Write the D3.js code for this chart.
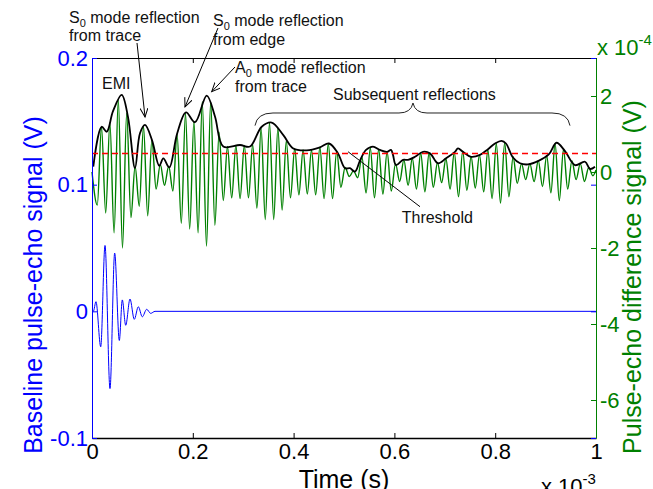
<!DOCTYPE html>
<html>
<head>
<meta charset="utf-8">
<script src="https://cdn.jsdelivr.net/npm/d3@7"></script>
<style>
  body { margin: 0; background: #fff; }
  text { font-family: Arial, "Liberation Sans", Helvetica, sans-serif; }
</style>
</head>
<body>
<svg id="chart" width="653" height="489"></svg>
<script>
// tick values
var timeTicks = [0, 0.2, 0.4, 0.6, 0.8, 1];
var baseTicks = [-0.1, 0, 0.1, 0.2];
var diffTicks = [-6, -4, -2, 0, 2];

// threshold level (x 1e-4 V)
var threshold = 0.49;

// baseline pulse-echo signal: [time (ms), volts]
var baseline = [
  [0, 0], [0.0026, 0], [0.0079, 0.0076], [0.0173, -0.028], [0.0258, 0.052],
  [0.0357, -0.061], [0.045, 0.046], [0.0542, -0.023], [0.0601, 0.009],
  [0.0669, -0.011], [0.0754, 0.0097], [0.0839, -0.0063], [0.0919, 0.0036],
  [0.0998, -0.0043], [0.1085, 0.0016], [0.1165, -0.0016], [0.125, 0], [1.0, 0]
];

// difference signal extrema: [time (ms), x 1e-4 V]
var diffSignal = [
  [0, 0.0],
  [0.0105, -0.87], [0.0188, 1.19], [0.0272, -1.08], [0.0355, 1.3],
  [0.0438, -1.6], [0.0522, 1.9], [0.0605, -2.0], [0.0688, 1.55],
  [0.0772, -1.2], [0.0855, 0.15], [0.0938, -0.9], [0.1022, 1.2],
  [0.1105, -1.15], [0.1188, 0.84], [0.1272, -0.45], [0.1355, 0.2],
  [0.1438, -0.35], [0.1522, 0.15], [0.1605, -0.5], [0.1688, 1.0],
  [0.1772, -1.35], [0.1855, 1.55], [0.1938, -1.5], [0.2022, 1.33],
  [0.2105, -1.6], [0.2188, 1.85], [0.2272, -1.95], [0.2355, 1.85],
  [0.2438, -1.4], [0.2522, 1.05], [0.2605, -0.75], [0.2688, 0.67],
  [0.2772, -0.68], [0.2855, 0.7], [0.2938, -0.7], [0.3022, 0.7],
  [0.3105, -0.68], [0.3188, 0.72], [0.3272, -0.95], [0.3355, 1.15],
  [0.3438, -1.25], [0.3522, 1.3], [0.3605, -1.25], [0.3688, 1.15],
  [0.3772, -1.0], [0.3855, 0.82], [0.3938, -0.68], [0.4022, 0.62],
  [0.4105, -0.6], [0.4188, 0.58], [0.4272, -0.58], [0.4355, 0.58],
  [0.4438, -0.6], [0.4522, 0.65], [0.4605, -0.7], [0.4688, 0.75],
  [0.4772, -0.7], [0.4855, 0.55], [0.4938, -0.4], [0.5022, 0.12],
  [0.5105, -0.12], [0.5188, 0.03], [0.5272, -0.15], [0.5355, 0.4],
  [0.5438, -0.55], [0.5522, 0.63], [0.5605, -0.68], [0.5688, 0.6],
  [0.5772, -0.58], [0.5855, 0.53], [0.5938, -0.5], [0.6022, 0.22],
  [0.6105, -0.25], [0.6188, 0.32], [0.6272, -0.35], [0.6355, 0.36],
  [0.6438, -0.45], [0.6522, 0.5], [0.6605, -0.52], [0.6688, 0.5],
  [0.6772, -0.4], [0.6855, 0.25], [0.6938, -0.28], [0.7022, 0.35],
  [0.7105, -0.45], [0.7188, 0.52], [0.7272, -0.65], [0.7355, 0.55],
  [0.7438, -0.48], [0.7522, 0.4], [0.7605, -0.42], [0.7688, 0.45],
  [0.7772, -0.52], [0.7855, 0.58], [0.7938, -0.7], [0.8022, 0.75],
  [0.8105, -0.82], [0.8188, 0.77], [0.8272, -0.65], [0.8355, 0.4],
  [0.8438, -0.3], [0.8522, 0.22], [0.8605, -0.2], [0.8688, 0.22],
  [0.8772, -0.25], [0.8855, 0.3], [0.8938, -0.38], [0.9022, 0.43],
  [0.9105, -0.55], [0.9188, 0.75], [0.9272, -0.75], [0.9355, 0.6],
  [0.9438, -0.45], [0.9522, 0.3], [0.9605, -0.2], [0.9688, 0.22],
  [0.9772, -0.25], [0.9855, 0.12], [0.9938, -0.1], [1.0, 0.05]
];

// envelope of difference signal: [time (ms), x 1e-4 V]
var envelope = [
  [0.0026, 0.14], [0.0192, 1.19], [0.0292, 1.06], [0.0417, 1.6], [0.0589, 2.03],
  [0.0714, 1.45], [0.0853, 0.1], [0.0952, 1.02], [0.1052, 1.24], [0.119, 0.84],
  [0.1335, 0.16], [0.1415, 0.36], [0.1534, 0.12], [0.1687, 1.0], [0.1865, 1.57],
  [0.2044, 1.31], [0.2276, 2.01], [0.244, 1.46], [0.2605, 0.67], [0.2937, 0.71],
  [0.3135, 0.67], [0.3367, 1.19], [0.3565, 1.30], [0.3796, 0.97], [0.3994, 0.62],
  [0.426, 0.57], [0.4524, 0.65], [0.4702, 0.75], [0.4881, 0.49], [0.502, 0.1],
  [0.5119, 0.1], [0.5218, 0.01], [0.5317, 0.3], [0.5437, 0.58], [0.5575, 0.67],
  [0.5714, 0.58], [0.5853, 0.53], [0.5933, 0.58], [0.5972, 0.45], [0.6032, 0.18],
  [0.6171, 0.32], [0.627, 0.32], [0.6409, 0.4], [0.6567, 0.53], [0.6706, 0.49],
  [0.6865, 0.23], [0.7024, 0.36], [0.7202, 0.53], [0.7262, 0.62], [0.7361, 0.53],
  [0.752, 0.40], [0.7698, 0.45], [0.7857, 0.6], [0.7996, 0.75], [0.8125, 0.82],
  [0.8214, 0.75], [0.8353, 0.38], [0.8492, 0.23], [0.8651, 0.2], [0.8869, 0.3],
  [0.9067, 0.47], [0.9216, 0.77], [0.9385, 0.55], [0.9583, 0.18], [0.9782, 0.27],
  [0.9881, 0.08], [0.998, 0.14]
];

// annotation texts, anchored in (time, difference-signal) units
var notes = [
  { lead: "S", sub: "0", rest: " mode reflection", t: -0.0456, g: 3.921 },
  { lead: "from trace", t: -0.0456, g: 3.447 },
  { lead: "S", sub: "0", rest: " mode reflection", t: 0.2401, g: 3.842 },
  { lead: "from edge", t: 0.2401, g: 3.342 },
  { lead: "A", sub: "0", rest: " mode reflection", t: 0.2837, g: 2.597 },
  { lead: "from trace", t: 0.2837, g: 2.113 },
  { lead: "EMI", t: 0.0198, g: 2.176 },
  { lead: "Subsequent reflections", t: 0.4782, g: 1.895 },
  { lead: "Threshold", t: 0.6145, g: -1.35 }
];

// arrows: from (t0,g0) to (t1,g1)
var arrows = [
  { t0: 0.0893, g0: 3.395, t1: 0.1052, g1: 1.447, head: true },
  { t0: 0.25, g0: 3.789, t1: 0.1845, g1: 1.711, head: true },
  { t0: 0.2837, g0: 2.763, t1: 0.2375, g1: 2.113, head: true },
  { t0: 0.508, g0: 0.534, t1: 0.6508, g1: -0.913, head: false }
];

// brace over subsequent reflections
var brace = { tStart: 0.3234, tMid: 0.6369, tEnd: 0.9484, gEnds: 1.22, gBar: 1.553, gTip: 1.816 };

var svg = d3.select("#chart");
var margin = { top: 58, right: 57, bottom: 51, left: 92 };
var width = 653 - margin.left - margin.right;
var height = 489 - margin.top - margin.bottom;

var x = d3.scaleLinear().domain([0, 1]).range([margin.left, margin.left + width]);
var yBase = d3.scaleLinear().domain([-0.1, 0.2]).range([margin.top + height, margin.top]);
var yDiff = d3.scaleLinear().domain([-7, 3]).range([margin.top + height, margin.top]);

var BLUE = "#0000ff", GREEN = "#008000";
var fmt = function(d) { return String(d); };

// baseline signal (left axis)
var baseLine = d3.line()
  .x(function(d) { return x(d[0]); })
  .y(function(d) { return yBase(d[1]); })
  .curve(d3.curveMonotoneX);

svg.append("path")
  .datum(baseline)
  .attr("d", baseLine)
  .attr("fill", "none")
  .attr("stroke", BLUE)
  .attr("stroke-width", 1);

// difference signal (right axis)
var diffLine = d3.line()
  .x(function(d) { return x(d[0]); })
  .y(function(d) { return yDiff(d[1]); })
  .curve(d3.curveMonotoneX);

svg.append("path")
  .datum(diffSignal)
  .attr("d", diffLine)
  .attr("fill", "none")
  .attr("stroke", GREEN)
  .attr("stroke-width", 1.4);

var envLine = d3.line()
  .x(function(d) { return x(d[0]); })
  .y(function(d) { return yDiff(d[1]); })
  .curve(d3.curveCatmullRom.alpha(0.5));

svg.append("path")
  .datum(envelope)
  .attr("d", envLine)
  .attr("fill", "none")
  .attr("stroke", "#000")
  .attr("stroke-width", 1.8);

svg.append("line")
  .attr("x1", x(0)).attr("x2", x(1))
  .attr("y1", yDiff(threshold)).attr("y2", yDiff(threshold))
  .attr("stroke", "#ff0000")
  .attr("stroke-width", 1.5)
  .attr("stroke-dasharray", "6,4");

// axes
function styleAxis(g, color, size) {
  g.attr("font-size", size)
    .attr("font-family", "Arial, 'Liberation Sans', sans-serif")
    .style("color", color);
}

var bottomAxis = svg.append("g")
  .attr("transform", "translate(0," + (margin.top + height) + ")")
  .call(d3.axisBottom(x).tickValues(timeTicks).tickFormat(fmt)
    .tickSizeInner(-5).tickSizeOuter(0).tickPadding(5));
styleAxis(bottomAxis, "#000", 22);
bottomAxis.select(".domain").attr("stroke-width", 1.6);

var topAxis = svg.append("g")
  .attr("transform", "translate(0," + margin.top + ")")
  .call(d3.axisTop(x).tickValues(timeTicks).tickFormat("")
    .tickSizeInner(-5).tickSizeOuter(0));
styleAxis(topAxis, "#000", 22);

var leftAxis = svg.append("g")
  .attr("transform", "translate(" + margin.left + ",0)")
  .call(d3.axisLeft(yBase).tickValues(baseTicks).tickFormat(fmt)
    .tickSizeInner(-5).tickSizeOuter(0).tickPadding(4));
styleAxis(leftAxis, BLUE, 22);

var leftMirror = svg.append("g")
  .attr("transform", "translate(" + (margin.left + width) + ",0)")
  .call(d3.axisRight(yBase).tickValues(baseTicks).tickFormat("")
    .tickSizeInner(-5).tickSizeOuter(0));
styleAxis(leftMirror, BLUE, 22);
leftMirror.select(".domain").remove();

var rightAxis = svg.append("g")
  .attr("transform", "translate(" + (margin.left + width) + ",0)")
  .call(d3.axisRight(yDiff).tickValues(diffTicks).tickFormat(fmt)
    .tickSizeInner(-5).tickSizeOuter(0).tickPadding(4));
styleAxis(rightAxis, GREEN, 22);

// exponent labels
var expTop = svg.append("text")
  .attr("x", margin.left + width + 1)
  .attr("y", 55)
  .attr("fill", GREEN)
  .attr("font-size", 22);
expTop.append("tspan").text("x 10");
expTop.append("tspan").attr("dy", -10).attr("font-size", 15).text("-4");

var expBottom = svg.append("text")
  .attr("x", margin.left + width - 55)
  .attr("y", 494)
  .attr("fill", "#000")
  .attr("font-size", 22);
expBottom.append("tspan").text("x 10");
expBottom.append("tspan").attr("dy", -10).attr("font-size", 15).text("-3");

// axis titles
svg.append("text")
  .attr("x", x(0.5))
  .attr("y", 488)
  .attr("text-anchor", "middle")
  .attr("font-size", 25)
  .attr("fill", "#000")
  .text("Time (s)");

svg.append("text")
  .attr("transform", "translate(42," + 285 + ") rotate(-90)")
  .attr("text-anchor", "middle")
  .attr("font-size", 25)
  .attr("fill", BLUE)
  .text("Baseline pulse-echo signal (V)");

svg.append("text")
  .attr("transform", "translate(641," + 277 + ") rotate(-90)")
  .attr("text-anchor", "middle")
  .attr("font-size", 25)
  .attr("fill", GREEN)
  .text("Pulse-echo difference signal (V)");

// annotations
svg.append("defs").append("marker")
  .attr("id", "arrowhead")
  .attr("markerUnits", "userSpaceOnUse")
  .attr("markerWidth", 12).attr("markerHeight", 12)
  .attr("refX", 9).attr("refY", 4)
  .attr("orient", "auto")
  .append("path")
  .attr("d", "M0,0 L9,4 L0,8")
  .attr("fill", "none")
  .attr("stroke", "#000")
  .attr("stroke-width", 1);

svg.selectAll("line.arrow")
  .data(arrows)
  .enter()
  .append("line")
  .attr("class", "arrow")
  .attr("x1", function(d) { return x(d.t0); })
  .attr("y1", function(d) { return yDiff(d.g0); })
  .attr("x2", function(d) { return x(d.t1); })
  .attr("y2", function(d) { return yDiff(d.g1); })
  .attr("stroke", "#000")
  .attr("stroke-width", 1)
  .attr("marker-end", function(d) { return d.head ? "url(#arrowhead)" : null; });

var noteText = svg.selectAll("text.note")
  .data(notes)
  .enter()
  .append("text")
  .attr("class", "note")
  .attr("x", function(d) { return x(d.t); })
  .attr("y", function(d) { return yDiff(d.g); })
  .attr("font-size", 16)
  .attr("fill", "#111");

noteText.each(function(d) {
  var t = d3.select(this);
  t.append("tspan").text(d.lead);
  if (d.sub) {
    t.append("tspan").attr("dy", 4).attr("font-size", 11).text(d.sub);
    t.append("tspan").attr("dy", -4).text(d.rest);
  }
});

var bx0 = x(brace.tStart), bxm = x(brace.tMid), bx1 = x(brace.tEnd);
var byE = yDiff(brace.gEnds), byB = yDiff(brace.gBar), byT = yDiff(brace.gTip);
var bracePath = d3.path();
bracePath.moveTo(bx0, byE);
bracePath.quadraticCurveTo(bx0 + 2, byB, bx0 + 18, byB);
bracePath.lineTo(bxm - 14, byB);
bracePath.quadraticCurveTo(bxm - 2, byB, bxm, byT);
bracePath.quadraticCurveTo(bxm + 2, byB, bxm + 14, byB);
bracePath.lineTo(bx1 - 18, byB);
bracePath.quadraticCurveTo(bx1 - 2, byB, bx1, byE);

svg.append("path")
  .attr("d", bracePath.toString())
  .attr("fill", "none")
  .attr("stroke", "#222")
  .attr("stroke-width", 1);
</script>
</body>
</html>
